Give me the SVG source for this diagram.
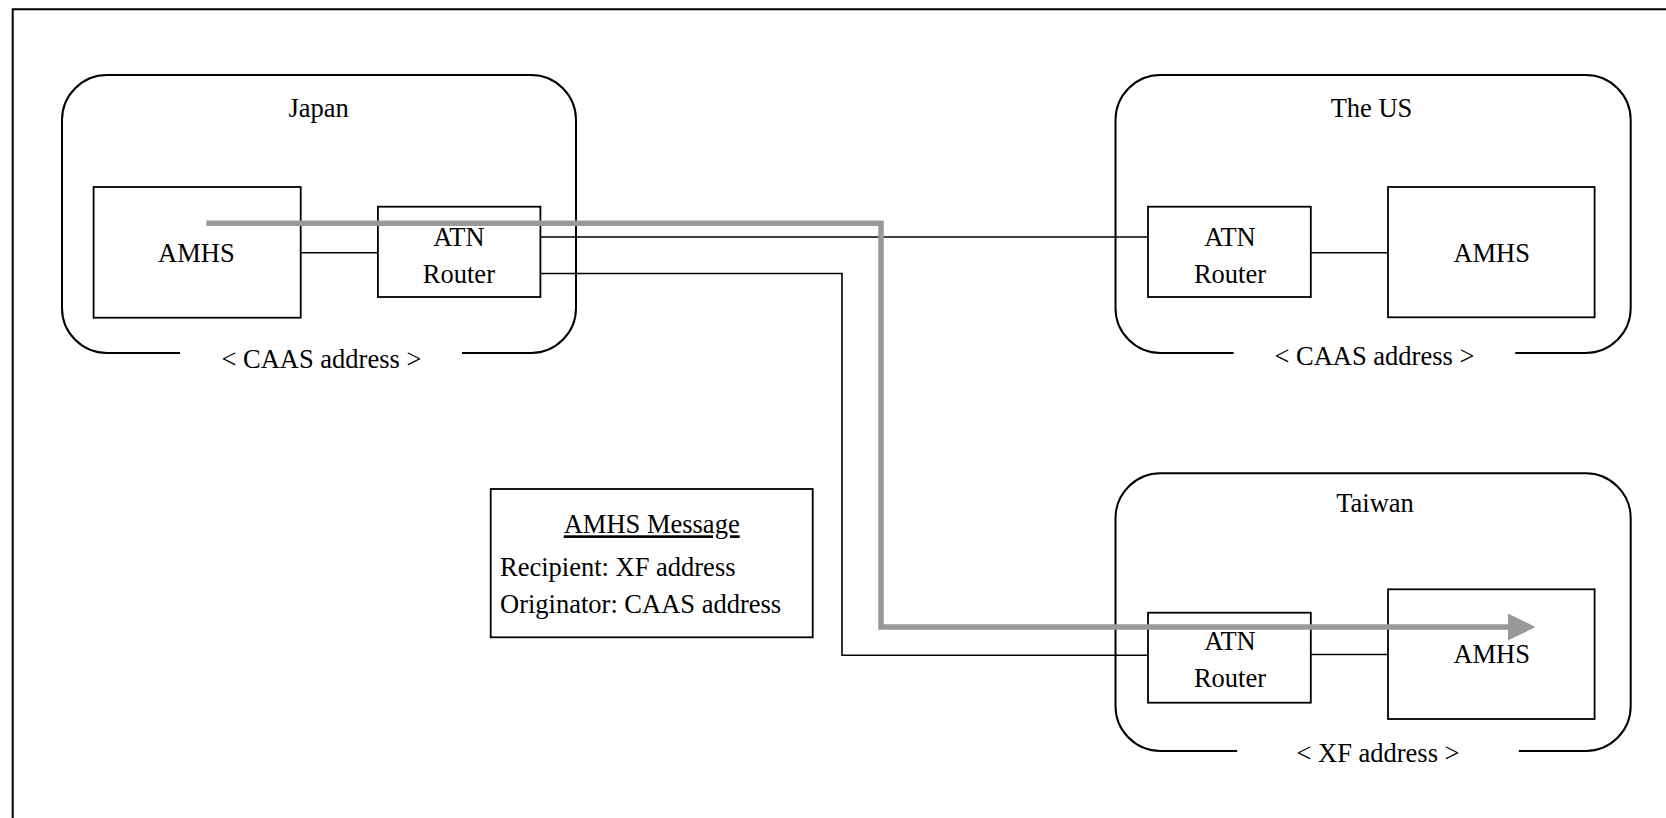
<svg xmlns="http://www.w3.org/2000/svg" width="1666" height="818" viewBox="0 0 1666 818">
<style>
text{font-family:"Liberation Serif","Times New Roman",serif;font-size:26.5px;fill:#000}
.c{text-anchor:middle}
.region{fill:none;stroke:#000;stroke-width:2}
.box{fill:#fff;stroke:#000;stroke-width:1.8}
.wire{fill:none;stroke:#000;stroke-width:1.6}
.flow{fill:none;stroke:#999;stroke-width:5.5}
</style>
<defs>
<marker id="arr" markerUnits="userSpaceOnUse" markerWidth="30" markerHeight="28" refX="0" refY="13.5" orient="auto">
<path d="M0,0 L27.5,13.5 L0,27 Z" fill="#999"/>
</marker>
</defs>
<rect width="1666" height="818" fill="#fff"/>
<path d="M12.7,830 V9.3 H1680" fill="none" stroke="#000" stroke-width="2"/>

<g id="japan">
<path class="region" d="M180,353 H107 A45,45 0 0 1 62,308 V120 A45,45 0 0 1 107,75 H531 A45,45 0 0 1 576,120 V308 A45,45 0 0 1 531,353 H462"/>
<text class="c" x="318.6" y="117">Japan</text>
<text class="c" x="321.4" y="368">&lt; CAAS address &gt;</text>
</g>
<g id="us">
<path class="region" d="M1233.6,353 H1160.5 A45,45 0 0 1 1115.5,308 V120 A45,45 0 0 1 1160.5,75 H1585.7 A45,45 0 0 1 1630.7,120 V308 A45,45 0 0 1 1585.7,353 H1515.2"/>
<text class="c" x="1371.5" y="117">The US</text>
<text class="c" x="1374.4" y="365">&lt; CAAS address &gt;</text>
</g>
<g id="taiwan">
<path class="region" d="M1237.2,751 H1160.5 A45,45 0 0 1 1115.5,706 V518.3 A45,45 0 0 1 1160.5,473.3 H1585.7 A45,45 0 0 1 1630.7,518.3 V706 A45,45 0 0 1 1585.7,751 H1518.8"/>
<text class="c" x="1375" y="511.7">Taiwan</text>
<text class="c" x="1378" y="761.7">&lt; XF address &gt;</text>
</g>

<g id="connectors">
<line class="wire" x1="300.7" y1="252.7" x2="377.9" y2="252.7"/>
<line class="wire" x1="540.4" y1="237" x2="1148" y2="237"/>
<path class="wire" d="M540.4,273.5 H842 V655.3 H1148"/>
<line class="wire" x1="1310.8" y1="252.7" x2="1388" y2="252.7"/>
<line class="wire" x1="1310.8" y1="654.5" x2="1388" y2="654.5"/>
</g>

<g id="japan-amhs">
<rect class="box" x="93.6" y="187" width="207.1" height="130.7"/>
<text class="c" x="196.4" y="262">AMHS</text>
</g>
<g id="japan-router">
<rect class="box" x="377.9" y="206.7" width="162.5" height="90.3"/>
<text class="c" x="458.9" y="246">ATN</text>
<text class="c" x="458.9" y="282.7">Router</text>
</g>
<g id="us-router">
<rect class="box" x="1148" y="206.7" width="162.8" height="90.3"/>
<text class="c" x="1230" y="246">ATN</text>
<text class="c" x="1230" y="282.7">Router</text>
</g>
<g id="us-amhs">
<rect class="box" x="1388" y="187" width="206.6" height="130.3"/>
<text class="c" x="1491.7" y="262">AMHS</text>
</g>
<g id="taiwan-router">
<rect class="box" x="1148" y="612.7" width="162.8" height="90"/>
<text class="c" x="1230" y="650">ATN</text>
<text class="c" x="1230" y="687.3">Router</text>
</g>
<g id="taiwan-amhs">
<rect class="box" x="1388" y="589.3" width="206.6" height="129.7"/>
<text class="c" x="1491.7" y="663.3">AMHS</text>
</g>
<g id="message">
<rect class="box" x="490.7" y="489" width="322" height="148.3"/>
<text class="c" x="651.7" y="533.3" text-decoration="underline">AMHS Message</text>
<text x="500" y="576">Recipient: XF address</text>
<text x="500" y="613.3">Originator: CAAS address</text>
</g>

<g id="flow">
<path class="flow" d="M206.4,223.3 H881 V627 H1508" marker-end="url(#arr)"/>
</g>
</svg>
